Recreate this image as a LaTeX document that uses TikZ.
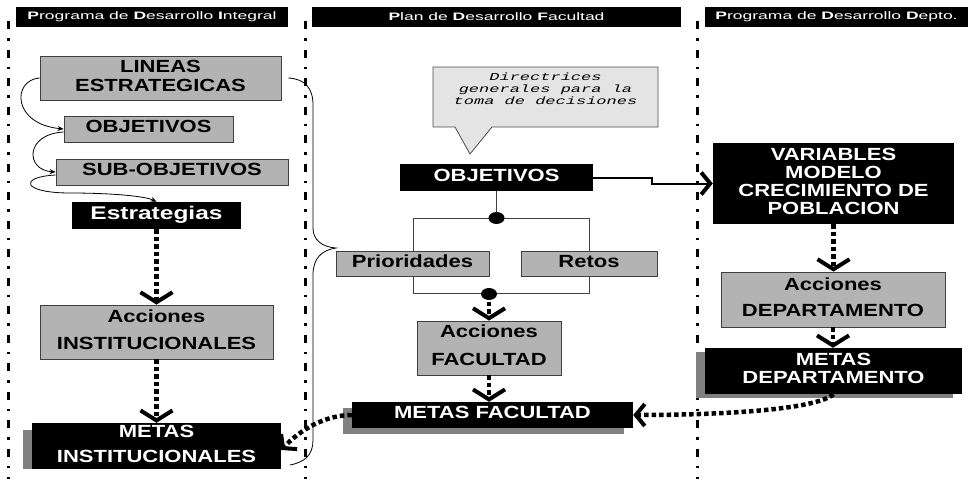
\documentclass[tikz,border=0pt]{standalone}
\usepackage{fontspec}
\setmainfont{Liberation Sans}
\newfontfamily\monofam{Liberation Mono}
\usepackage{graphicx}
\usetikzlibrary{arrows.meta,shapes.geometric}
\definecolor{boxgray}{HTML}{B3B3B3}
\definecolor{callgray}{HTML}{E4E4E4}
\definecolor{shadowgray}{HTML}{808080}
\newcommand\vsq[2]{\scalebox{1}[#1]{#2}}
\newcommand\stk[2][0.8]{\scalebox{1}[#1]{\begin{tabular}{@{}c@{}}#2\end{tabular}}}
\begin{document}
\begin{tikzpicture}[x=1pt,y=-1pt,
 boxfont/.style={font=\fontsize{22}{24}\selectfont\bfseries},
 gbox/.style={boxfont, draw=black!75, line width=0.8pt, fill=boxgray, inner sep=0pt, text=black},
 bbox/.style={boxfont, fill=black, inner sep=0pt, text=white},
 hbar/.style={fill=black, text=white, inner sep=0pt, minimum height=20pt, font=\fontsize{17.5}{19}\selectfont},
 shad/.style={fill=shadowgray, inner sep=0pt},
 sepline/.style={line width=3pt, dash pattern=on 8pt off 9pt on 2.5pt off 9pt},
 dotc/.style={line width=4.5pt, dash pattern=on 4.5pt off 3pt},
 vtip/.style={-{Straight Barb[length=10pt,width=32pt,line width=4pt]}},
 htip/.style={-{Straight Barb[length=9pt,width=22pt,line width=4pt]}},
 curvarr/.style={line width=0.8pt, -{Stealth[length=6pt,width=5pt]}},
 dotnode/.style={ellipse, fill=black, minimum width=16pt, minimum height=12pt, inner sep=0pt},
 bracket/.style={line width=1pt, draw=black!75},
]
\fill[white] (0,0) rectangle (980,479);
\useasboundingbox (0,0) rectangle (980,479);

% column separators
\draw[sepline] (8,21) -- (8,479);
\draw[sepline] (305,21) -- (305,479);
\draw[sepline] (697,21) -- (697,479);

% headers
\node[hbar, minimum width=272pt] (h1) at (152,17) {\vsq{0.62}{\textbf{P}rograma de \textbf{D}esarrollo \textbf{I}ntegral}};
\node[hbar, minimum width=369pt] (h2) at (496.5,17) {\vsq{0.62}{\textbf{P}lan de \textbf{D}esarrollo \textbf{F}acultad}};
\node[hbar, minimum width=263pt] (h3) at (836.5,17) {\vsq{0.62}{\textbf{P}rograma de \textbf{D}esarrollo \textbf{D}epto.}};

% left column
\node[gbox, minimum width=241pt, minimum height=44pt] (lin) at (160.5,78) {\stk{LINEAS\\ESTRATEGICAS}};
\node[gbox, minimum width=169pt, minimum height=26pt] (obj1) at (148.5,129) {\stk{OBJETIVOS}};
\node[gbox, minimum width=232pt, minimum height=26pt] (sub) at (172,172) {\stk{SUB-OBJETIVOS}};
\node[bbox, minimum width=169pt, minimum height=27pt, font=\fontsize{24.5}{26}\selectfont\bfseries] (est) at (156.5,215.5) {\stk[0.75]{Estrategias}};
\node[gbox, minimum width=233pt, minimum height=54pt] (accI) at (156.5,332) {\stk{Acciones\\[9.75pt]INSTITUCIONALES}};
\node[shad, minimum width=249pt, minimum height=39pt] (metIs) at (147.5,449.5) {};
\node[bbox, minimum width=249pt, minimum height=46pt] (metI) at (156.5,446) {\stk{METAS\\[7.25pt]INSTITUCIONALES}};

% centre column
\path[draw=black!70, fill=callgray, line width=0.8pt] (433,67) -- (658,67) -- (658,127) -- (492,127) -- (470,154) -- (455,127) -- (433,127) -- cycle;
\node[font=\monofam\itshape\fontsize{17}{19.5}\selectfont, inner sep=0pt] (dir) at (545.5,90) {\stk[0.62]{Directrices\\generales para la\\toma de decisiones}};
\node[bbox, minimum width=193pt, minimum height=27pt] (objC) at (496.5,177.5) {\stk{OBJETIVOS}};
\draw[bracket] (413,218) rectangle (589,293);
\draw[bracket] (objC.south) -- (496.5,218);
\node[dotnode] (d1) at (496.5,218) {};
\node[gbox, minimum width=153pt, minimum height=25pt] (prio) at (412.5,263.5) {\stk{Prioridades}};
\node[gbox, minimum width=136pt, minimum height=25pt] (retos) at (589,263.5) {\stk{Retos}};
\node[dotnode] (d2) at (489,294) {};
\node[gbox, minimum width=144pt, minimum height=54pt] (accF) at (489,348) {\stk{Acciones\\[11pt]FACULTAD}};
\node[shad, minimum width=281pt, minimum height=26pt] (metFs) at (483.5,420.5) {};
\node[bbox, minimum width=281pt, minimum height=26pt] (metF) at (492.5,415) {\stk{METAS FACULTAD}};

% right column
\node[bbox, minimum width=241pt, minimum height=81pt] (var) at (833.5,183.5) {\stk{VARIABLES\\[-1.5pt]MODELO\\[-1.5pt]CRECIMIENTO DE\\[-1.5pt]POBLACION}};
\node[gbox, minimum width=224pt, minimum height=55pt] (accD) at (833,299.5) {\stk{Acciones\\[8.5pt]DEPARTAMENTO}};
\node[shad, minimum width=257pt, minimum height=46pt] (metDs) at (824,375) {};
\node[bbox, minimum width=257pt, minimum height=46pt] (metD) at (833.5,371) {\stk{METAS\\[-1.5pt]DEPARTAMENTO}};

% connectors
\draw[dotc, vtip] (est.south) -- (accI.north);
\draw[dotc, vtip] (accI.south) -- (metI.north);
\draw[dotc, vtip] (d2.center) -- (accF.north);
\draw[dotc, vtip] (accF.south) -- (accF.south |- metF.north);
\draw[dotc, vtip] (var.south) -- (var.south |- accD.north);
\draw[dotc, vtip] (accD.south) -- (accD.south |- metD.north);
\draw[dotc, htip] (metD.south) .. controls (815,410) and (720,415) .. (metF.east);
\draw[dotc, htip] (metF.west) .. controls (325,415) and (300,430) .. ([yshift=-4pt]metI.east);
\draw[line width=2pt, htip] (objC.east) -- (652,177.5) |- (var.west);

\draw[curvarr] (lin.west) .. controls (12,80) and (12,124) .. (obj1.west);
\draw[curvarr] ([yshift=-3pt]obj1.west) .. controls (25,134) and (25,170) .. (sub.west);
\draw[curvarr] ([yshift=-3pt]sub.west) .. controls (18,177) and (22,193) .. (70,193) .. controls (110,193) and (145,196) .. (est.north);

% brace
\coordinate (bend) at (290,465);
\draw[line width=0.8pt] ([xshift=7pt]lin.east) .. controls (305,79) and (313,88) .. (313,105) -- (313,228) .. controls (313,240) and (322,247) .. (336,248) .. controls (322,250) and (313,258) .. (313,275) -- (313,440) .. controls (313,455) and (305,462) .. (bend);
\end{tikzpicture}
\end{document}
